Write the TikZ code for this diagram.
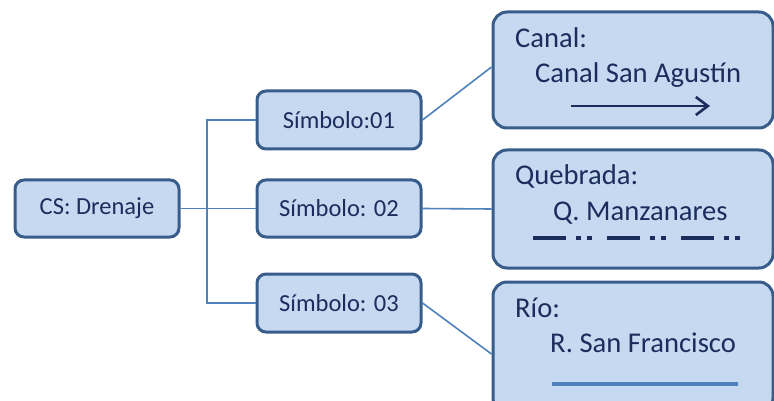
\documentclass[tikz,border=0pt]{standalone}
\usepackage{fontspec}
\setmainfont{Carlito}
\usetikzlibrary{arrows.meta}
\definecolor{boxfill}{HTML}{C6D9F1}
\definecolor{boxline}{HTML}{385D8A}
\definecolor{txt}{HTML}{1A2D5C}
\definecolor{conn}{HTML}{4F81BD}
\begin{document}
\begin{tikzpicture}[x=1pt,y=-1pt,
  sbox/.style={draw=boxline,fill=boxfill,line width=3pt,rounded corners=9pt,text=txt,font=\fontsize{24.5}{27}\selectfont},
  bbox/.style={draw=boxline,fill=boxfill,line width=3pt,rounded corners=14pt},
  btxt/.style={anchor=base west,inner sep=0pt,text=txt,font=\fontsize{28.6}{32}\selectfont},
  conline/.style={draw=conn,line width=1.6pt}]
\useasboundingbox (0,0) rectangle (774,401);
\clip (0,0) rectangle (774,401);
% left boxes
\node[sbox,minimum width=164pt,minimum height=57pt] (cs) at (97,208.5) {CS: Drenaje};
\node[sbox,minimum width=164pt,minimum height=58pt] (s1) at (339,120) {Símbolo:01};
\node[sbox,minimum width=164pt,minimum height=57pt] (s2) at (339,208.5) {Símbolo: 02};
\node[sbox,minimum width=164pt,minimum height=58pt] (s3) at (339,303) {Símbolo: 03};
% right boxes
\node[bbox,minimum width=280pt,minimum height=116pt] (b1) at (633,70) {};
\node[bbox,minimum width=280pt,minimum height=118pt] (b2) at (633,209) {};
\node[bbox,minimum width=280pt,minimum height=130pt] (b3) at (633,347) {};
% connectors
\coordinate (tr) at (207,208.5);
\draw[conline] (cs.east) -- (s2.west);
\draw[conline] (s1.west) -| (tr) |- (s3.west);
\draw[conline] (s1.east) -- ([yshift=3pt]b1.west);
\draw[conline] (s2.east) -- (b2.west);
\draw[conline] (s3.east) -- ([yshift=-7pt]b3.west);
% texts
\node[btxt] (t1a) at (515,48) {Canal:};
\node[btxt] (t1b) at (535,83) {Canal San Agustín};
\node[btxt] (t2a) at (515,185) {Quebrada:};
\node[btxt] (t2b) at (553,220) {Q. Manzanares};
\node[btxt] (t3a) at (515,317) {Río:};
\node[btxt] (t3b) at (550,352) {R. San Francisco};
% symbols
\coordinate (a1) at (571,106);
\coordinate (a2) at (710,106);
\draw[txt,line width=2.6pt,-{Straight Barb[length=12pt,width=18pt]}] (a1) -- (a2);
\coordinate (q1) at (533,238);
\coordinate (q2) at (745,238);
\draw[txt,line width=4.5pt,dash pattern=on 33pt off 10pt on 5pt off 6pt on 5pt off 15pt] (q1) -- (q2);
\coordinate (r1) at (552,384);
\coordinate (r2) at (738,384);
\draw[conn,line width=4pt] (r1) -- (r2);
\end{tikzpicture}
\end{document}
